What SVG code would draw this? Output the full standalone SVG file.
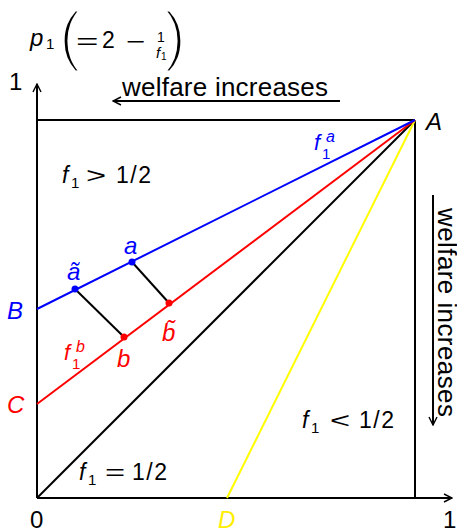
<svg xmlns="http://www.w3.org/2000/svg" width="457" height="531" viewBox="0 0 457 531">
<style>
text{font-family:"Liberation Sans",Arial,sans-serif;fill:#000}
.i{font-style:italic}
.ln{fill:none;stroke-width:2}
.k{stroke:#000}
.bl{stroke:#0000ff}
.rd{stroke:#ff0000}
.yl{stroke:#ffff00}
.blue{fill:#0000ff}
.red{fill:#ff0000}
.yel{fill:#ffee00}
.par{font-size:66px;stroke:#fff;stroke-width:3px}
.rl{font-size:23px}
.sym{font-size:23px}
</style>
<defs>
<marker id="ah" viewBox="0 0 10 10" refX="9" refY="5" markerWidth="10" markerHeight="10" markerUnits="userSpaceOnUse" orient="auto">
<path d="M1,1 L9,5 L1,9" fill="none" stroke="#000" stroke-width="1.4"/>
</marker>
</defs>
<rect width="457" height="531" fill="#fff"/>

<g id="connectors">
<line class="ln k" x1="37" y1="498" x2="37" y2="84" marker-end="url(#ah)"/>
<line class="ln k" x1="37" y1="498" x2="452" y2="498" marker-end="url(#ah)"/>
<line class="ln k" x1="37" y1="120" x2="415" y2="120"/>
<line class="ln k" x1="415" y1="120" x2="415" y2="498"/>
<line class="ln k" x1="37" y1="498" x2="415" y2="120"/>
<line class="ln yl" x1="227" y1="498" x2="415" y2="120"/>
<line class="ln rd" x1="37" y1="404" x2="415" y2="120"/>
<line class="ln bl" x1="37" y1="309" x2="415" y2="120"/>
<line class="ln k" x1="75" y1="289" x2="124" y2="337"/>
<line class="ln k" x1="132" y1="262" x2="169" y2="303"/>
<line class="ln k" stroke-width="1.6" x1="340" y1="101" x2="113" y2="101" marker-end="url(#ah)"/>
<line class="ln k" stroke-width="1.6" x1="433" y1="195" x2="433" y2="425" marker-end="url(#ah)"/>
</g>

<g id="axis-title">
<text x="30" y="46" font-size="24" class="i">p</text>
<text x="46" y="49" font-size="15">1</text>
<text class="par" x="59" y="58">(</text>
<text font-size="22" transform="translate(76,49) scale(1.75,1)" x="0" y="0">=</text>
<text x="102" y="48" font-size="23">2</text>
<text font-size="22" transform="translate(126,49) scale(1.5,1)" x="0" y="0">−</text>
<text x="157" y="42" font-size="14">1</text>
<text x="156" y="58" font-size="15" class="i">f</text>
<text x="161" y="60" font-size="10">1</text>
<text class="par" x="164" y="58">)</text>
</g>

<g id="tick-labels">
<text x="9" y="90" font-size="24">1</text>
<text x="30" y="528" font-size="24">0</text>
<text x="443" y="528" font-size="24">1</text>
</g>

<g id="welfare-top">
<text x="122" y="96" font-size="26" textLength="206">welfare increases</text>
</g>
<g id="welfare-right">
<text transform="translate(438,208) rotate(90)" font-size="26" textLength="209">welfare increases</text>
</g>

<g id="A"><text class="i" x="426" y="130" font-size="24">A</text></g>
<g id="B"><text class="i blue" x="7" y="319" font-size="24">B</text></g>
<g id="C"><text class="i red" x="7" y="413" font-size="24">C</text></g>
<g id="D"><text class="i yel" x="218" y="528" font-size="24">D</text></g>

<g id="f1a"><text class="i blue" x="314" y="150" font-size="22">f</text><text class="blue" x="322" y="159" font-size="15">1</text><text class="i blue" x="326" y="142" font-size="16">a</text></g>
<g id="f1b"><text class="i red" x="64" y="360" font-size="22">f</text><text class="red" x="72" y="369" font-size="15">1</text><text class="i red" x="76" y="352" font-size="16">b</text></g>

<g id="region-gt"><text class="i rl" x="62" y="183">f</text><text x="71" y="188" font-size="15">1</text><text class="sym" transform="translate(86,183) scale(1.5,1)">&gt;</text><text class="rl" x="116" y="183" letter-spacing="1.5">1/2</text></g>
<g id="region-lt"><text class="i rl" x="302" y="428">f</text><text x="311" y="433" font-size="15">1</text><text class="sym" transform="translate(330,428) scale(1.5,1)">&lt;</text><text class="rl" x="359" y="428" letter-spacing="1.5">1/2</text></g>
<g id="region-eq"><text class="i rl" x="79" y="480">f</text><text x="88" y="485" font-size="15">1</text><text class="sym" transform="translate(105,480) scale(1.5,1)">=</text><text class="rl" x="132" y="480" letter-spacing="1.5">1/2</text></g>

<g id="point-a-tilde"><circle cx="75" cy="289" r="3.5" fill="#0000ff"/><text class="i blue" x="67" y="280" font-size="24">ã</text></g>
<g id="point-a"><circle cx="132" cy="262" r="3.5" fill="#0000ff"/><text class="i blue" x="124" y="254" font-size="24">a</text></g>
<g id="point-b"><circle cx="124" cy="337" r="3.5" fill="#ff0000"/><text class="i red" x="117" y="367" font-size="24">b</text></g>
<g id="point-b-tilde"><circle cx="169" cy="303" r="3.5" fill="#ff0000"/><text class="i red" x="162" y="341" font-size="24">b̃</text></g>
</svg>
